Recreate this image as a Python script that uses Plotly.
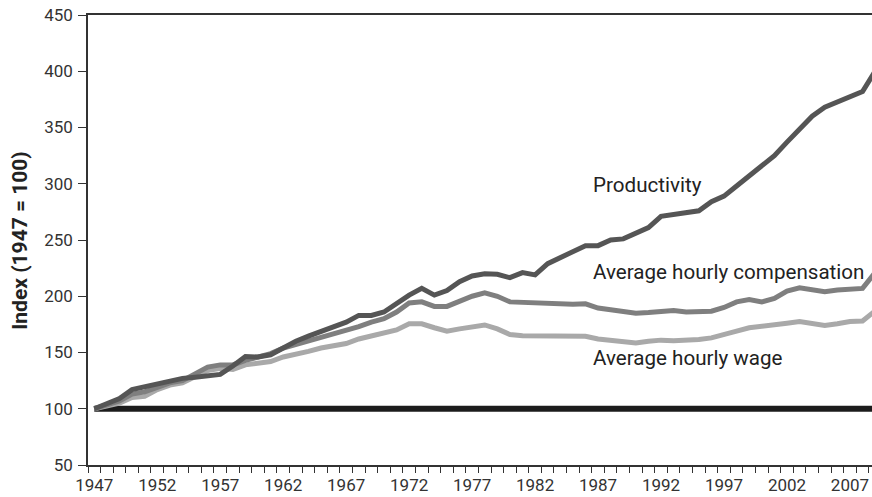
import plotly.graph_objects as go

years = list(range(1947, 2010))

productivity = [100, 105, 109, 117, 119.5, 122, 124.5, 127, 128, 129, 130.5, 138, 146.5, 146, 148, 154, 160,
                164.5, 169, 173, 177, 183, 183, 186, 194, 201, 207, 201, 205, 213, 218, 220, 219.5, 216.5,
                221, 219, 229, 234, 240, 245, 245, 250, 251, 256, 261, 271, 272.5, 275, 276, 284, 289,
                298, 307, 316, 325, 337, 349, 360, 368, 373, 377.5, 382, 400]

compensation = [100, 103, 107, 113, 115, 119, 123, 125, 131, 137, 139, 139, 143, 146, 149, 154, 157,
                160, 164, 166, 169, 173, 177, 180, 186, 194, 195, 191, 191, 196, 200, 203, 200, 195,
                194.5, 194.5, 194, 193.5, 193, 193.3, 189.5, 188, 186.5, 185, 185.5, 186.5, 187.3, 186,
                186.5, 186.7, 190, 195, 197, 195, 198, 204.5, 207.5, 205.5, 204, 205.5, 206.5, 207, 221]

wage = [100, 102, 105, 110, 111, 117, 121, 123, 128, 134, 136, 135, 139, 140, 142, 146, 148,
        151, 154, 156, 158, 162, 165, 167, 170, 175.5, 175.5, 172, 169, 171, 173, 174.5, 171, 166,
        165, 165, 165, 165, 164, 164.5, 162, 161, 160, 158.5, 160, 161, 160.5, 160.5,
        161.5, 163, 165.5, 169, 172, 173, 174, 176, 177.5, 176, 174, 175.5, 177.5, 178, 187]

baseline = [100] * len(years)

label_years = list(range(1947, 2008, 5))
y_ticks = list(range(50, 451, 50))

FONT = "Roboto, 'Open Sans', sans-serif"
AX = "#333333"

fig = go.Figure()
fig.add_trace(go.Scatter(x=years, y=baseline, mode="lines",
                         line=dict(color="#1c1c1c", width=6), hoverinfo="skip"))
fig.add_trace(go.Scatter(x=years, y=wage, mode="lines",
                         line=dict(color="#a9a9a9", width=5), name="Average hourly wage"))
fig.add_trace(go.Scatter(x=years, y=compensation, mode="lines",
                         line=dict(color="#7f7f7f", width=5), name="Average hourly compensation"))
fig.add_trace(go.Scatter(x=years, y=productivity, mode="lines",
                         line=dict(color="#555555", width=5), name="Productivity"))

ann_font = dict(family=FONT, size=20.6, color="#222222")
fig.add_annotation(x=1986.4, y=298.5, xref="x", yref="y", text="Productivity", showarrow=False,
                   xanchor="left", yanchor="middle", font=ann_font)
fig.add_annotation(x=1986.4, y=222, xref="x", yref="y", text="Average hourly compensation", showarrow=False,
                   xanchor="left", yanchor="middle", font=ann_font)
fig.add_annotation(x=1986.4, y=145.5, xref="x", yref="y", text="Average hourly wage", showarrow=False,
                   xanchor="left", yanchor="middle", font=ann_font)
fig.add_annotation(x=-0.087, y=0.5, xref="paper", yref="paper", text="<b>Index (1947 = 100)</b>",
                   textangle=-90, showarrow=False, xanchor="center", yanchor="middle",
                   font=dict(family=FONT, size=21, color="#222222"))

fig.update_layout(
    width=872, height=497,
    margin=dict(l=88, r=0, t=15, b=32, autoexpand=False),
    paper_bgcolor="white", plot_bgcolor="white",
    showlegend=False,
    font=dict(family=FONT, size=17, color=AX),
    xaxis=dict(range=[1946.5, 2008.75], tickmode="array", tickvals=label_years, automargin=False,
               ticklabeloverflow="allow", ticklabelstandoff=4,
               ticktext=[str(y) for y in label_years], ticks="", showgrid=False, zeroline=False,
               showline=True, linecolor=AX, linewidth=1.5, mirror=True,
               minor=dict(tick0=1946.5, dtick=1, ticks="outside", ticklen=6, tickcolor=AX, tickwidth=1.2,
                          showgrid=False),
               tickfont=dict(family=FONT, size=17, color=AX)),
    yaxis=dict(range=[50, 450], tickmode="array", tickvals=y_ticks, ticks="outside", ticklen=8,
               automargin=False, ticklabeloverflow="allow", ticklabelstandoff=2,
               tickcolor=AX, tickwidth=1.2, showgrid=False, zeroline=False, showline=True,
               linecolor=AX, linewidth=1.5, tickfont=dict(family=FONT, size=17, color=AX)),
)

fig.write_html("out.html", config={"displayModeBar": False},
               post_script="document.body.style.margin='0';document.body.style.overflow='hidden';")
